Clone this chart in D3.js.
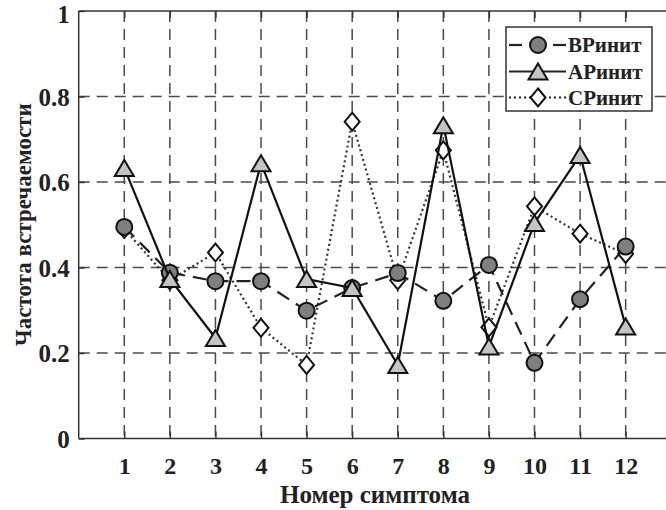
<!DOCTYPE html>
<html>
<head>
<meta charset="utf-8">
<script src="https://cdn.jsdelivr.net/npm/d3@7/dist/d3.min.js"></script>
<style>
html,body{margin:0;padding:0;background:#fff;}
svg{display:block;}
text{font-family:"Liberation Serif","Times New Roman",serif;font-weight:bold;fill:#222;}
</style>
</head>
<body>
<svg id="chart" width="666" height="510"></svg>
<script>
const symptoms = [1,2,3,4,5,6,7,8,9,10,11,12];
const seriesNames = ["ВРинит","АРинит","СРинит"];
const bRinit = [0.495,0.388,0.368,0.368,0.299,0.352,0.387,0.322,0.406,0.177,0.326,0.449];
const aRinit = [0.633,0.373,0.235,0.644,0.373,0.352,0.172,0.733,0.215,0.504,0.663,0.262];
const cRinit = [0.49,0.37,0.435,0.259,0.172,0.741,0.37,0.674,0.26,0.543,0.479,0.432];
const yTicks = [0,0.2,0.4,0.6,0.8,1];
const yTickLabels = ["0","0.2","0.4","0.6","0.8","1"];
const xTitle = "Номер симптома";
const yTitle = "Частота встречаемости";

const svg = d3.select("#chart");
const x = d3.scaleLinear().domain([0,13]).range([78.7, 78.7+13*45.58]);
const y = d3.scaleLinear().domain([0,1]).range([438.5, 11]);

const gridColor = "#4a4a4a";
// horizontal grid
svg.append("g").selectAll("line").data(yTicks.filter(v=>v>0&&v<1)).join("line")
  .attr("x1", x(0)).attr("x2", x(13)).attr("y1", d=>y(d)).attr("y2", d=>y(d))
  .attr("stroke", gridColor).attr("stroke-width",1.5).attr("stroke-dasharray","11,7");
// vertical grid
svg.append("g").selectAll("line").data(symptoms).join("line")
  .attr("x1", d=>x(d)).attr("x2", d=>x(d)).attr("y1", y(1)).attr("y2", y(0))
  .attr("stroke", gridColor).attr("stroke-width",1.5).attr("stroke-dasharray","11,7");

// axes box
const axColor = "#333";
const xAxis = d3.axisBottom(x).tickValues(symptoms).tickSize(-7).tickPadding(14).tickFormat(d3.format("d"));
const gx = svg.append("g").attr("transform",`translate(0,${y(0)})`).call(xAxis);
gx.select(".domain").remove();
gx.selectAll(".tick line").attr("stroke",axColor).attr("stroke-width",1.4);
gx.selectAll(".tick text").attr("font-size",24).attr("fill","#222")
  .style("font-family",'"Liberation Serif","Times New Roman",serif').style("font-weight","bold")
  .attr("dy","0.9em");

const xTop = d3.axisTop(x).tickValues(symptoms).tickSize(-7).tickFormat("");
const gxt = svg.append("g").attr("transform",`translate(0,${y(1)})`).call(xTop);
gxt.select(".domain").remove();
gxt.selectAll(".tick line").attr("stroke",axColor).attr("stroke-width",1.4);

const yAxis = d3.axisLeft(y).tickValues(yTicks).tickSize(-6).tickPadding(9)
  .tickFormat((d,i)=>yTickLabels[i]);
const gy = svg.append("g").attr("transform",`translate(${x(0)},0)`).call(yAxis);
gy.select(".domain").remove();
gy.selectAll(".tick line").attr("stroke",axColor).attr("stroke-width",1.4);
gy.selectAll(".tick text").attr("font-size",25).attr("fill","#222")
  .style("font-family",'"Liberation Serif","Times New Roman",serif').style("font-weight","bold")
  .attr("dy",(d)=> d===1 ? "0.45em" : "0.35em");

svg.append("line").attr("x1",x(0)).attr("x2",x(13)).attr("y1",y(0)).attr("y2",y(0)).attr("stroke",axColor).attr("stroke-width",1.5);
svg.append("line").attr("x1",x(0)).attr("x2",x(13)).attr("y1",y(1)).attr("y2",y(1)).attr("stroke",axColor).attr("stroke-width",1.5);
svg.append("line").attr("x1",x(0)).attr("x2",x(0)).attr("y1",y(0)).attr("y2",y(1)).attr("stroke",axColor).attr("stroke-width",1.5);
svg.append("line").attr("x1",x(13)).attr("x2",x(13)).attr("y1",y(0)).attr("y2",y(1)).attr("stroke",axColor).attr("stroke-width",1.5);

// marker helpers
function circleM(g, cx, cy){ g.append("circle").attr("cx",cx).attr("cy",cy).attr("r",8).attr("fill","#7f7f7f").attr("stroke","#111").attr("stroke-width",2); }
function triM(g, cx, cy){ const w=9.5,h=8; g.append("path").attr("d",`M${cx},${cy-h}L${cx+w},${cy+h}L${cx-w},${cy+h}Z`).attr("fill","#c4c4c4").attr("stroke","#111").attr("stroke-width",2).attr("stroke-linejoin","miter"); }
function diaM(g, cx, cy){ const w=7.5,h=9; g.append("path").attr("d",`M${cx},${cy-h}L${cx+w},${cy}L${cx},${cy+h}L${cx-w},${cy}Z`).attr("fill","#fff").attr("stroke","#111").attr("stroke-width",2); }

const line = d3.line().x((d,i)=>x(symptoms[i])).y(d=>y(d));
const series = [
  {name:seriesNames[2], data:cRinit, dash:"2,3", color:"#333", width:2.2, marker:diaM},
  {name:seriesNames[0], data:bRinit, dash:"14,8", color:"#222", width:2.2, marker:circleM},
  {name:seriesNames[1], data:aRinit, dash:null, color:"#111", width:2.2, marker:triM}
];
series.forEach(s=>{
  const g = svg.append("g");
  g.append("path").attr("d", line(s.data)).attr("fill","none").attr("stroke",s.color)
   .attr("stroke-width",s.width).attr("stroke-dasharray",s.dash);
  s.data.forEach((v,i)=>s.marker(g, x(symptoms[i]), y(v)));
});

// legend
const lg = svg.append("g");
lg.append("rect").attr("x",506).attr("y",27).attr("width",146).attr("height",84)
  .attr("fill","#fff").attr("stroke","#333").attr("stroke-width",1.5);
const legendItems = [
  {name:seriesNames[0], dash:"14,8", marker:circleM, yy:45},
  {name:seriesNames[1], dash:null, marker:triM, yy:71.5},
  {name:seriesNames[2], dash:"2,3", marker:diaM, yy:97.5}
];
legendItems.forEach(it=>{
  if(it.dash==="14,8"){
    lg.append("line").attr("x1",509).attr("x2",522).attr("y1",it.yy).attr("y2",it.yy).attr("stroke","#222").attr("stroke-width",2.2);
    lg.append("line").attr("x1",553).attr("x2",566).attr("y1",it.yy).attr("y2",it.yy).attr("stroke","#222").attr("stroke-width",2.2);
  } else {
    lg.append("line").attr("x1",509).attr("x2",566).attr("y1",it.yy).attr("y2",it.yy).attr("stroke","#222").attr("stroke-width",2.2).attr("stroke-dasharray",it.dash);
  }
  it.marker(lg, 538, it.yy);
  lg.append("text").attr("x",568).attr("y",it.yy).attr("dy","0.35em").attr("font-size",21).text(it.name);
});

// titles
svg.append("text").attr("x",375).attr("y",503).attr("text-anchor","middle").attr("font-size",25).text(xTitle);
svg.append("text").attr("transform",`translate(31,${(y(0)+y(1))/2}) rotate(-90)`).attr("text-anchor","middle").attr("font-size",23).text(yTitle);
</script>
</body>
</html>
